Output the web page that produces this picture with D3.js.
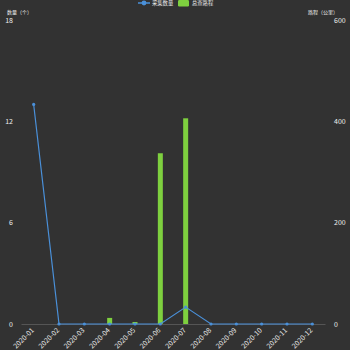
<!DOCTYPE html>
<html>
<head>
<meta charset="utf-8">
<script src="https://cdn.jsdelivr.net/npm/d3@7"></script>
<style>
  body { margin: 0; background: #323232; }
  svg { display: block; }
  text { font-family: "Noto Sans CJK SC", "DejaVu Sans", sans-serif; }
</style>
</head>
<body>
<svg id="chart"></svg>
<script>
let months = ['2020-01', '2020-02', '2020-03', '2020-04', '2020-05', '2020-06',
  '2020-07', '2020-08', '2020-09', '2020-10', '2020-11', '2020-12'];
let counts = [13, 0, 0, 0, 0, 0, 1, 0, 0, 0, 0, 0];
let distances = [0, 0, 0, 12, 4, 337, 406, 0, 0, 0, 0, 0];
let leftTicks = [0, 6, 12, 18];
let rightTicks = [0, 200, 400, 600];
let legendNames = ['采集数量', '总查路程'];

let w = 350;
let h = 350;
let padLeft = 21;
let padRight = 325;
let padTop = 20;
let padBottom = 324;

let lineColor = '#4a90d9';
let barColor = '#7ed03f';
let textColor = '#eeeeee';

let svg = d3.select('#chart').attr('width', w).attr('height', h);

let xScale = d3.scaleBand().domain(months).range([padLeft, padRight]);
let yLeft = d3.scaleLinear().domain([0, 18]).range([padBottom, padTop]);
let yRight = d3.scaleLinear().domain([0, 600]).range([padBottom, padTop]);

// x axis
let xAxis = d3.axisBottom(xScale).tickSize(0).tickSizeOuter(0);
let gx = svg.append('g')
  .attr('transform', 'translate(0,' + padBottom + ')')
  .call(xAxis);
gx.select('.domain').attr('stroke', '#555');
gx.selectAll('text')
  .attr('fill', textColor)
  .style('font-size', '7px')
  .attr('text-anchor', 'end')
  .attr('transform', 'translate(-1,5) rotate(-45)')
  .attr('dy', '0.35em')
  .attr('y', 0);

// left axis
let gl = svg.append('g')
  .attr('transform', 'translate(' + 13 + ',0)')
  .call(d3.axisLeft(yLeft).tickValues(leftTicks).tickSize(0));
gl.select('.domain').remove();
gl.selectAll('text').attr('fill', textColor).style('font-size', '7px').attr('x', 0);

// right axis
let gr = svg.append('g')
  .attr('transform', 'translate(' + 334 + ',0)')
  .call(d3.axisRight(yRight).tickValues(rightTicks).tickSize(0));
gr.select('.domain').remove();
gr.selectAll('text').attr('fill', textColor).style('font-size', '7px').attr('x', 0);

// axis names
svg.append('text').attr('x', 7).attr('y', 13.5)
  .attr('fill', textColor).style('font-size', '5px').text('数量（个）');
svg.append('text').attr('x', 338).attr('y', 13.5).attr('text-anchor', 'end')
  .attr('fill', textColor).style('font-size', '5px').text('路程（公里）');

// bars
let barW = 5;
svg.selectAll('rect.bar')
  .data(distances)
  .enter()
  .append('rect')
  .attr('class', 'bar')
  .attr('x', (d, i) => xScale(months[i]) + xScale.bandwidth() / 2 - barW / 2)
  .attr('y', d => yRight(d))
  .attr('width', barW)
  .attr('height', d => padBottom - yRight(d))
  .attr('fill', barColor);

// line
let line = d3.line()
  .x((d, i) => xScale(months[i]) + xScale.bandwidth() / 2)
  .y(d => yLeft(d));
svg.append('path')
  .datum(counts)
  .attr('d', line)
  .attr('fill', 'none')
  .attr('stroke', lineColor)
  .attr('stroke-width', 1.2);
svg.selectAll('circle.pt')
  .data(counts)
  .enter()
  .append('circle')
  .attr('class', 'pt')
  .attr('cx', (d, i) => xScale(months[i]) + xScale.bandwidth() / 2)
  .attr('cy', d => yLeft(d))
  .attr('r', 1.6)
  .attr('fill', lineColor);

// legend
let lg = svg.append('g').attr('transform', 'translate(138,3)');
lg.append('line').attr('x1', 0).attr('x2', 12).attr('y1', 0).attr('y2', 0)
  .attr('stroke', lineColor).attr('stroke-width', 1.5);
lg.append('circle').attr('cx', 6).attr('cy', 0).attr('r', 2.4).attr('fill', lineColor);
lg.append('text').attr('x', 14).attr('y', 1.9).attr('fill', textColor)
  .style('font-size', '5.3px').text(legendNames[0]);
lg.append('rect').attr('x', 40).attr('y', -3).attr('width', 11).attr('height', 6.5)
  .attr('rx', 1.2).attr('fill', barColor);
lg.append('text').attr('x', 54).attr('y', 1.9).attr('fill', textColor)
  .style('font-size', '5.3px').text(legendNames[1]);
</script>
</body>
</html>
